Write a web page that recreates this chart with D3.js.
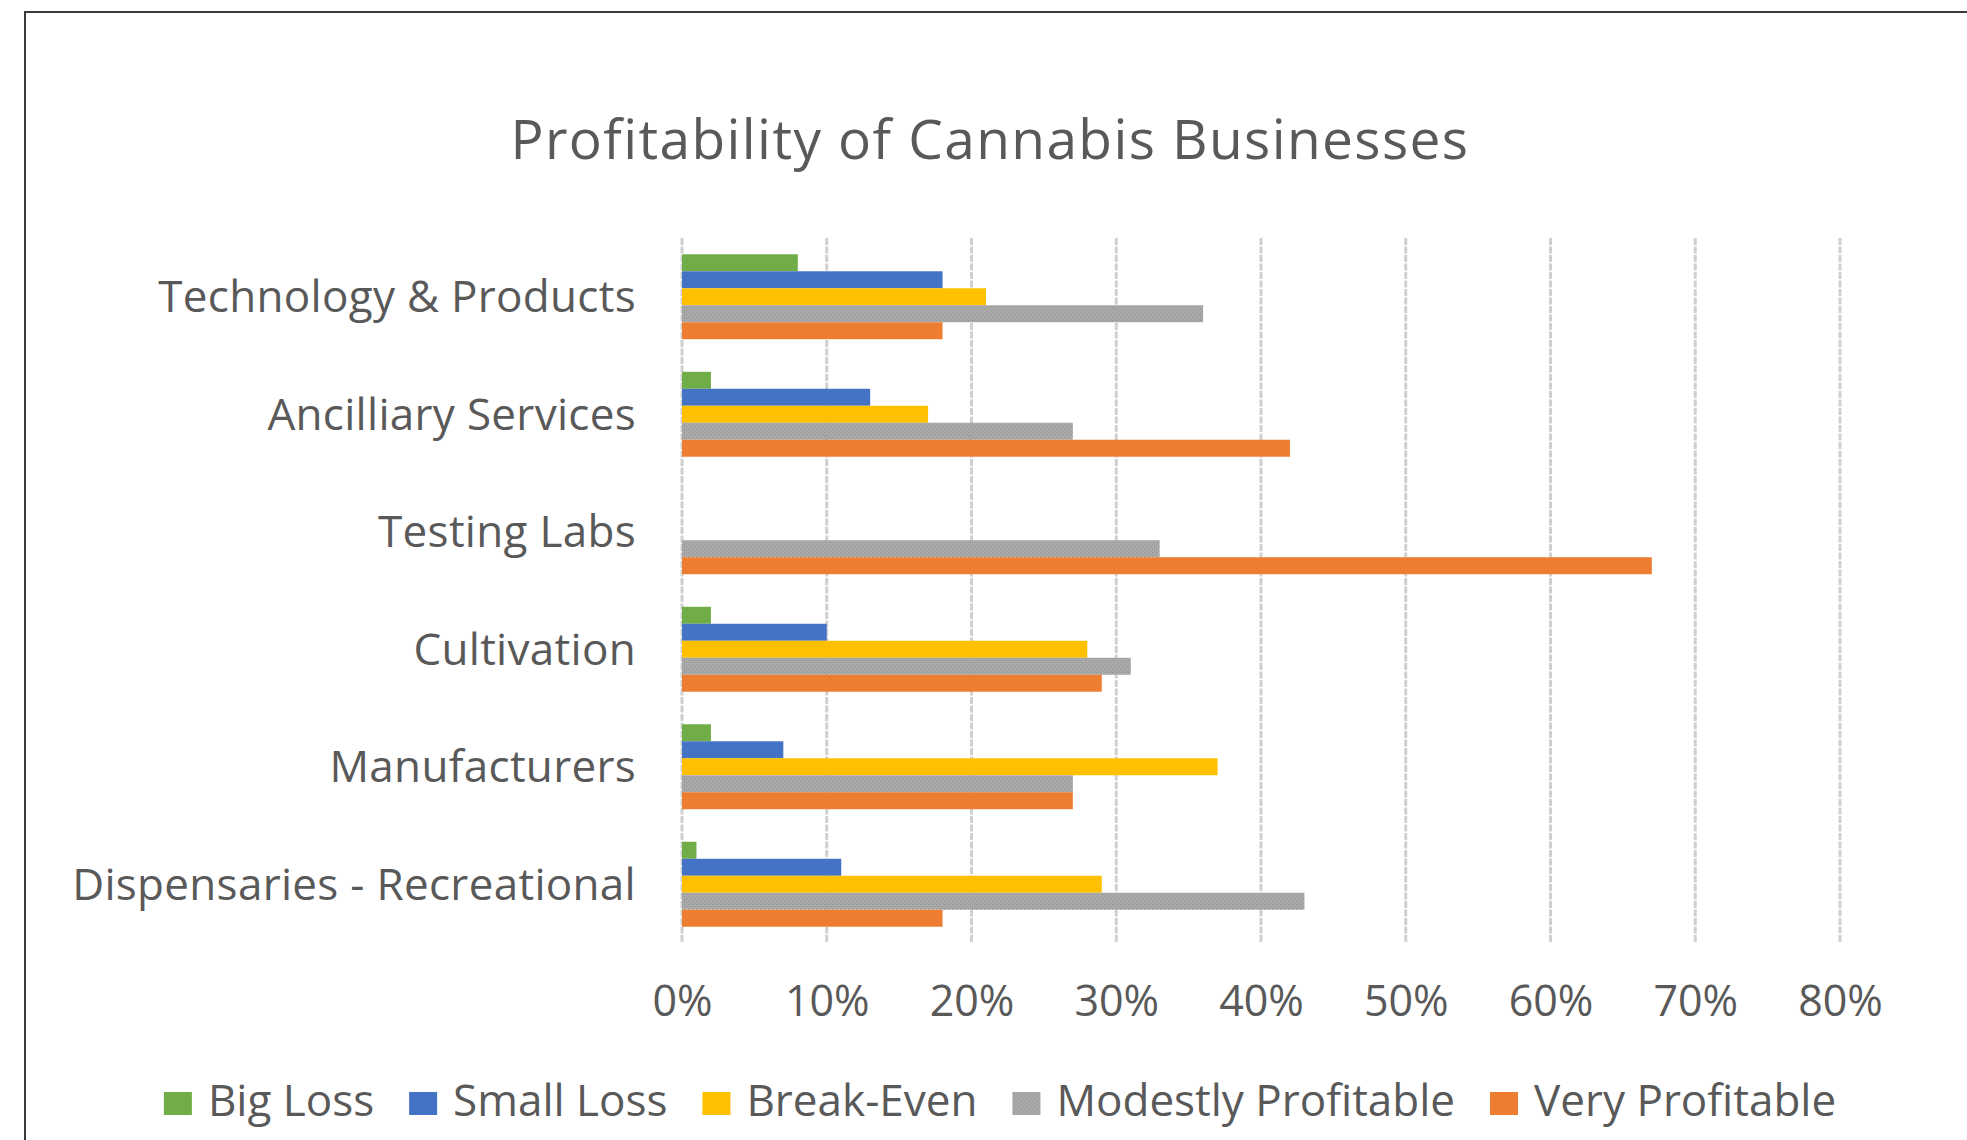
<!DOCTYPE html>
<html>
<head>
<meta charset="utf-8">
<script src="https://cdn.jsdelivr.net/npm/d3@7"></script>
<style>
  body { margin: 0; background: #fff; }
  text { font-family: "Open Sans", sans-serif; fill: #595959; }
</style>
</head>
<body>
<div id="chart-area"></div>
<script>
// data
let categories = ["Technology & Products", "Ancilliary Services", "Testing Labs",
                  "Cultivation", "Manufacturers", "Dispensaries - Recreational"];
let seriesNames = ["Big Loss", "Small Loss", "Break-Even", "Modestly Profitable", "Very Profitable"];
let bigLoss        = [8, 2, 0, 2, 2, 1];
let smallLoss      = [18, 13, 0, 10, 7, 11];
let breakEven      = [21, 17, 0, 28, 37, 29];
let modestly       = [36, 27, 33, 31, 27, 43];
let veryProfitable = [18, 42, 67, 29, 27, 18];
let tickValues = [0, 10, 20, 30, 40, 50, 60, 70, 80];

let seriesValues = [bigLoss, smallLoss, breakEven, modestly, veryProfitable];
let colors = ["#70ad47", "#4472c4", "#ffc000", "url(#greyTex)", "#ed7d31"];

// rows for the bars
let rows = [];
categories.forEach(function(c, i) {
  seriesNames.forEach(function(s, j) {
    rows.push({cat: c, series: s, value: seriesValues[j][i], color: colors[j]});
  });
});

// canvas
let W = 1967, H = 1140;
let m = {top: 238, left: 682, right: 127, bottom: 197};
let w = W - m.left - m.right;   // width of plot
let h = H - m.top - m.bottom;   // height of plot

let svg = d3.select("#chart-area")
    .append("svg")
    .attr("width", W)
    .attr("height", H);

// texture for grey bars
let defs = svg.append("defs");
let pat = defs.append("pattern")
    .attr("id", "greyTex")
    .attr("width", 4)
    .attr("height", 4)
    .attr("patternUnits", "userSpaceOnUse");
pat.append("rect").attr("width", 4).attr("height", 4).attr("fill", "#a9a9a9");
pat.append("rect").attr("x", 0).attr("y", 0).attr("width", 1).attr("height", 1).attr("fill", "#8e8e8e");
pat.append("rect").attr("x", 2).attr("y", 2).attr("width", 1).attr("height", 1).attr("fill", "#8e8e8e");

// chart border (only top and left visible in frame)
svg.append("rect")
    .attr("x", 25)
    .attr("y", 12)
    .attr("width", 3000)
    .attr("height", 3000)
    .attr("fill", "none")
    .attr("stroke", "#3a3a3a")
    .attr("stroke-width", 2);

// title
svg.append("text")
    .attr("x", 990)
    .attr("y", 159)
    .attr("font-size", "55px")
    .attr("letter-spacing", "1.4px")
    .attr("text-anchor", "middle")
    .text("Profitability of Cannabis Businesses");

let g = svg.append("g")
    .attr("transform", "translate(" + m.left + "," + m.top + ")");

// scales
let x = d3.scaleLinear()
    .domain([0, 80])
    .range([0, w]);

let y = d3.scaleBand()
    .domain(categories)
    .range([0, h])
    .paddingInner(0.277)
    .paddingOuter(0.1385);

let y1 = d3.scaleBand()
    .domain(seriesNames)
    .range([0, y.bandwidth()]);

// gridlines
g.selectAll(".grid")
    .data(tickValues)
    .enter()
    .append("line")
      .attr("class", "grid")
      .attr("x1", function(d) { return x(d); })
      .attr("x2", function(d) { return x(d); })
      .attr("y1", 0)
      .attr("y2", h)
      .attr("stroke", "#d0d0d0")
      .attr("stroke-width", 3)
      .attr("stroke-dasharray", "7,1.5");

// bars
g.selectAll(".bar")
    .data(rows)
    .enter()
    .append("rect")
      .attr("class", "bar")
      .attr("x", x(0))
      .attr("y", function(d) { return y(d.cat) + y1(d.series); })
      .attr("width", function(d) { return x(d.value) - x(0); })
      .attr("height", y1.bandwidth())
      .attr("fill", function(d) { return d.color; });

// category labels
g.selectAll(".cat")
    .data(categories)
    .enter()
    .append("text")
      .attr("class", "cat")
      .attr("x", -46)
      .attr("y", function(d) { return y(d) + y.bandwidth() / 2; })
      .attr("dy", "0.35em")
      .attr("font-size", "44px")
      .attr("letter-spacing", "0.3px")
      .attr("text-anchor", "end")
      .text(function(d) { return d; });

// x axis (labels only)
let xAxisCall = d3.axisBottom(x)
    .tickValues(tickValues)
    .tickSize(0)
    .tickPadding(0)
    .tickFormat(function(d) { return d + "%"; });
let xAxis = g.append("g")
    .attr("class", "x axis")
    .attr("transform", "translate(0," + h + ")")
    .call(xAxisCall);
xAxis.select(".domain").remove();
xAxis.selectAll("text")
    .attr("font-size", "43px")
    .attr("font-family", "Open Sans, sans-serif")
    .attr("fill", "#595959")
    .attr("dy", null)
    .attr("y", 73);

// legend
let legend = svg.append("g").attr("class", "legend");
let items = legend.selectAll(".item")
    .data(seriesNames)
    .enter()
    .append("g")
      .attr("class", "item");
items.append("rect")
    .attr("y", 1092)
    .attr("width", 28)
    .attr("height", 23)
    .attr("fill", function(d, i) { return colors[i]; });
items.append("text")
    .attr("x", 44)
    .attr("y", 1116)
    .attr("font-size", "44px")
    .text(function(d) { return d; });

// place items side by side, centred
let gap = 35;
let offsets = [], pos = 0;
items.each(function() {
  offsets.push(pos);
  pos += 44 + d3.select(this).select("text").node().getComputedTextLength() + gap;
});
let total = pos - gap;
let start = 1000 - total / 2;
items.attr("transform", function(d, i) { return "translate(" + (start + offsets[i]) + ",0)"; });
</script>
</body>
</html>
